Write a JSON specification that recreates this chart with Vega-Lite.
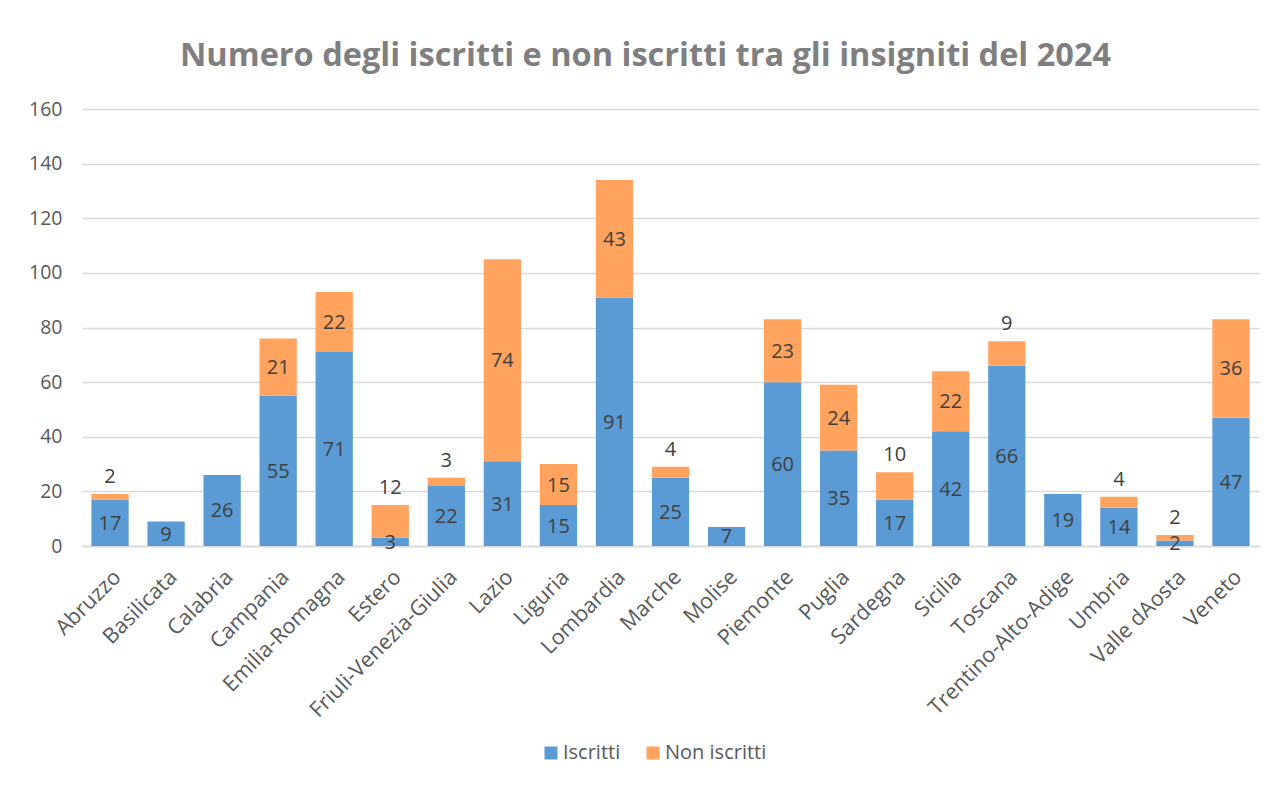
{
  "$schema": "https://vega.github.io/schema/vega-lite/v6.json",
  "autosize": "none",
  "width": 1177,
  "height": 437,
  "padding": {"left": 82, "top": 109, "right": 17, "bottom": 239},
  "background": "white",
  "config": {"font": "Open Sans", "view": {"stroke": null}},
  "title": {"text": "Numero degli iscritti e non iscritti tra gli insigniti del 2024", "fontSize": 32.5, "fontWeight": "bold", "color": "#7F7F7F", "anchor": "middle", "dx": -25, "offset": 27},
  "data": {"values": [
    {"Regione": "Abruzzo", "Tipo": "Iscritti", "Valore": 17},
    {"Regione": "Abruzzo", "Tipo": "Non iscritti", "Valore": 2},
    {"Regione": "Basilicata", "Tipo": "Iscritti", "Valore": 9},
    {"Regione": "Calabria", "Tipo": "Iscritti", "Valore": 26},
    {"Regione": "Campania", "Tipo": "Iscritti", "Valore": 55},
    {"Regione": "Campania", "Tipo": "Non iscritti", "Valore": 21},
    {"Regione": "Emilia-Romagna", "Tipo": "Iscritti", "Valore": 71},
    {"Regione": "Emilia-Romagna", "Tipo": "Non iscritti", "Valore": 22},
    {"Regione": "Estero", "Tipo": "Iscritti", "Valore": 3},
    {"Regione": "Estero", "Tipo": "Non iscritti", "Valore": 12},
    {"Regione": "Friuli-Venezia-Giulia", "Tipo": "Iscritti", "Valore": 22},
    {"Regione": "Friuli-Venezia-Giulia", "Tipo": "Non iscritti", "Valore": 3},
    {"Regione": "Lazio", "Tipo": "Iscritti", "Valore": 31},
    {"Regione": "Lazio", "Tipo": "Non iscritti", "Valore": 74},
    {"Regione": "Liguria", "Tipo": "Iscritti", "Valore": 15},
    {"Regione": "Liguria", "Tipo": "Non iscritti", "Valore": 15},
    {"Regione": "Lombardia", "Tipo": "Iscritti", "Valore": 91},
    {"Regione": "Lombardia", "Tipo": "Non iscritti", "Valore": 43},
    {"Regione": "Marche", "Tipo": "Iscritti", "Valore": 25},
    {"Regione": "Marche", "Tipo": "Non iscritti", "Valore": 4},
    {"Regione": "Molise", "Tipo": "Iscritti", "Valore": 7},
    {"Regione": "Piemonte", "Tipo": "Iscritti", "Valore": 60},
    {"Regione": "Piemonte", "Tipo": "Non iscritti", "Valore": 23},
    {"Regione": "Puglia", "Tipo": "Iscritti", "Valore": 35},
    {"Regione": "Puglia", "Tipo": "Non iscritti", "Valore": 24},
    {"Regione": "Sardegna", "Tipo": "Iscritti", "Valore": 17},
    {"Regione": "Sardegna", "Tipo": "Non iscritti", "Valore": 10},
    {"Regione": "Sicilia", "Tipo": "Iscritti", "Valore": 42},
    {"Regione": "Sicilia", "Tipo": "Non iscritti", "Valore": 22},
    {"Regione": "Toscana", "Tipo": "Iscritti", "Valore": 66},
    {"Regione": "Toscana", "Tipo": "Non iscritti", "Valore": 9},
    {"Regione": "Trentino-Alto-Adige", "Tipo": "Iscritti", "Valore": 19},
    {"Regione": "Umbria", "Tipo": "Iscritti", "Valore": 14},
    {"Regione": "Umbria", "Tipo": "Non iscritti", "Valore": 4},
    {"Regione": "Valle dAosta", "Tipo": "Iscritti", "Valore": 2},
    {"Regione": "Valle dAosta", "Tipo": "Non iscritti", "Valore": 2},
    {"Regione": "Veneto", "Tipo": "Iscritti", "Valore": 47},
    {"Regione": "Veneto", "Tipo": "Non iscritti", "Valore": 36}
  ]},
  "transform": [
    {"stack": "Valore", "groupby": ["Regione"], "sort": [{"field": "Tipo", "order": "ascending"}], "as": ["v0", "v1"]},
    {"calculate": "(datum.v0 + datum.v1) / 2", "as": "mid"}
  ],
  "encoding": {
    "x": {"field": "Regione", "type": "nominal", "sort": null, "title": null,
      "scale": {"paddingInner": 0.335, "paddingOuter": 0.1675},
      "axis": {"labelAngle": -45, "labelFontSize": 21.5, "labelColor": "#595959", "ticks": false, "domainColor": "#D9D9D9", "domainWidth": 1.3, "labelPadding": 20, "labelLimit": 300}}
  },
  "layer": [
    {
      "mark": {"type": "bar"},
      "encoding": {
        "y": {"field": "v0", "type": "quantitative", "scale": {"domain": [0, 160]}, "title": null,
          "axis": {"values": [0, 20, 40, 60, 80, 100, 120, 140, 160], "labelFontSize": 19.5, "labelColor": "#595959", "ticks": false, "domain": false, "gridColor": "#D9D9D9", "gridWidth": 1.3, "labelPadding": 20}},
        "y2": {"field": "v1"},
        "color": {"field": "Tipo", "type": "nominal", "title": null,
          "scale": {"domain": ["Iscritti", "Non iscritti"], "range": ["#5B9BD5", "#FFA35F"]},
          "legend": {"orient": "none", "direction": "horizontal", "legendX": 459, "legendY": 634, "symbolType": "square", "symbolSize": 169, "symbolStrokeWidth": 0, "labelFontSize": 20, "labelColor": "#595959", "columnPadding": 22, "labelOffset": 2}}
      }
    },
    {
      "transform": [{"filter": "datum.Tipo == 'Iscritti' || datum.Valore > 12"}],
      "mark": {"type": "text", "fontSize": 20, "color": "#404040", "baseline": "middle", "dy": 1},
      "encoding": {
        "y": {"field": "mid", "type": "quantitative"},
        "text": {"field": "Valore", "type": "quantitative"}
      }
    },
    {
      "transform": [{"filter": "datum.Tipo == 'Non iscritti' && datum.Valore <= 12"}],
      "mark": {"type": "text", "fontSize": 20, "color": "#404040", "baseline": "alphabetic", "dy": -11},
      "encoding": {
        "y": {"field": "v1", "type": "quantitative"},
        "text": {"field": "Valore", "type": "quantitative"}
      }
    }
  ]
}
